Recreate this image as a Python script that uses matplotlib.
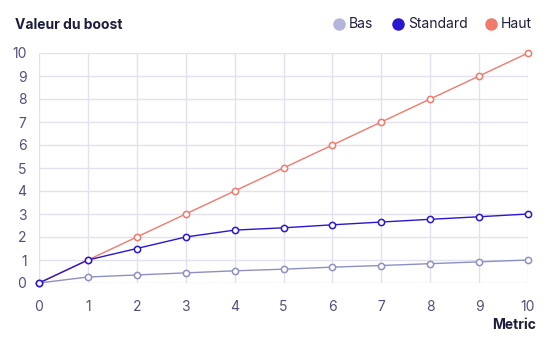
import matplotlib
matplotlib.use("Agg")
import matplotlib.pyplot as plt
from matplotlib.lines import Line2D

plt.rcParams['font.family'] = ['Inter', 'DejaVu Sans']

x = [0, 1, 2, 3, 4, 5, 6, 7, 8, 9, 10]
bas = [0, 0.26, 0.35, 0.44, 0.53, 0.6, 0.69, 0.76, 0.84, 0.92, 1.0]
standard = [0, 1, 1.5, 2, 2.3, 2.4, 2.53, 2.65, 2.77, 2.88, 3.0]
haut = [0, 1, 2, 3, 4, 5, 6, 7, 8, 9, 10]
series_names = ["Bas", "Standard", "Haut"]
line_colors = ["#8e90c4", "#2a17d2", "#f07a6c"]
legend_colors = ["#b4b5dc", "#2a17d2", "#f07a6c"]

W, H = 551, 339
fig = plt.figure(figsize=(W / 100, H / 100), dpi=100)
ax = fig.add_axes([39 / W, 1 - 283 / H, (528 - 39) / W, (283 - 53) / H])

text_col = "#50507e"
for vals, col, z in [(haut, line_colors[2], 3), (bas, line_colors[0], 4), (standard, line_colors[1], 5)]:
    ax.plot(x, vals, color=col, lw=1.0, marker='o', ms=4.5, mfc='white', mec=col, mew=1.1,
            clip_on=False, zorder=z)

ax.set_xlim(0, 10)
ax.set_ylim(0, 10)
ax.set_xticks(range(0, 11))
ax.set_yticks(range(0, 11))
ax.grid(True, color="#e1e1f0", lw=1)
ax.set_axisbelow(True)
for s in ax.spines.values():
    s.set_visible(False)
ax.tick_params(length=0, labelsize=10, colors=text_col, pad=9)
ax.tick_params(axis='x', pad=12)

fig.text(15 / W, 1 - 25 / H, "Valeur du boost", fontsize=10, fontweight='bold',
         color="#1d1d3f", va='center', ha='left')
fig.text(536 / W, 1 - 325 / H, "Metric", fontsize=10, fontweight='bold',
         color="#1d1d3f", va='center', ha='right')

# legend
leg_x = [339, 398, 491]
for lx, name, col in zip(leg_x, series_names, legend_colors):
    fig.add_artist(Line2D([lx / W], [1 - 24 / H], marker='o', ms=8, color=col, mec=col,
                          lw=0, transform=fig.transFigure))
    fig.text((lx + 10) / W, 1 - 24 / H, name, fontsize=10, color="#1d1d3f",
             va='center', ha='left')

fig.savefig("out.png", dpi=100, facecolor='white')
